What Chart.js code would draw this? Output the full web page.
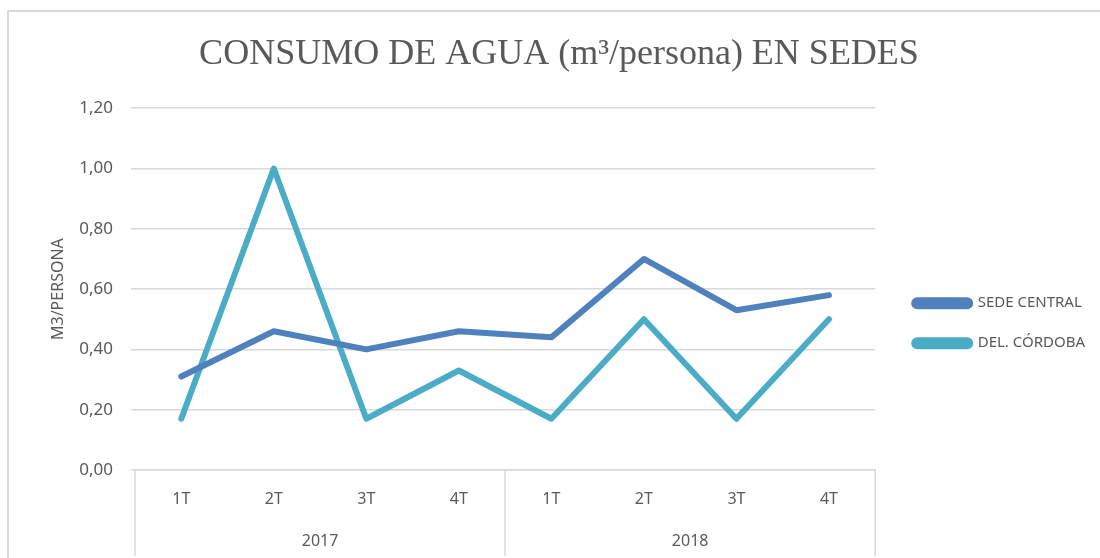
<!DOCTYPE html>
<html>
<head>
<meta charset="utf-8">
<script src="https://cdn.jsdelivr.net/npm/chart.js@4.4.1/dist/chart.umd.min.js"></script>
<style>
  html, body { margin: 0; padding: 0; background: #fff; overflow: hidden; }
  #frame { position: absolute; left: 7px; top: 10px; width: 1200px; height: 600px;
           border-left: 2px solid #d9d9d9; border-top: 2px solid #d9d9d9; }
  #wrap { position: absolute; left: 0; top: 0; width: 1100px; height: 558px; }
</style>
</head>
<body>
<div id="frame"></div>
<div id="wrap"><canvas id="myChart"></canvas></div>
<script>
const quarters = ['1T', '2T', '3T', '4T', '1T', '2T', '3T', '4T'];
const years = ['2017', '2018'];
const sedeCentral = [0.31, 0.46, 0.40, 0.46, 0.44, 0.70, 0.53, 0.58];
const delCordoba = [0.17, 1.00, 0.17, 0.33, 0.17, 0.50, 0.17, 0.50];
const yTicks = [0, 0.2, 0.4, 0.6, 0.8, 1.0, 1.2];

const gridColor = '#d9d9d9';
const textColor = '#595959';
const sansFont = "'Noto Sans', sans-serif";

// vertical separators under the axis (start, between years, end)
const groupLines = {
  id: 'groupLines',
  afterDraw(chart) {
    const x = chart.scales.x;
    const area = chart.chartArea;
    const c = chart.ctx;
    const mid = (x.getPixelForValue(3) + x.getPixelForValue(4)) / 2;
    c.save();
    c.strokeStyle = gridColor;
    c.lineWidth = 1.5;
    [area.left, mid, area.right].forEach(px => {
      c.beginPath();
      c.moveTo(px, area.bottom);
      c.lineTo(px, chart.height - 2);
      c.stroke();
    });
    c.restore();
  }
};

// nudge legend away from plot and title a bit left, like the excel original
const nudge = {
  id: 'nudge',
  afterLayout(chart) {
    const lg = chart.legend;
    const d = chart.chartArea.right + 14 - lg.left;
    lg.left += d;
    lg.right += d;
    chart.titleBlock.left -= 4;
    chart.titleBlock.right -= 4;
  }
};

const ctx = document.getElementById('myChart');

new Chart(ctx, {
  type: 'line',
  data: {
    labels: quarters,
    datasets: [
      {
        label: 'SEDE CENTRAL',
        data: sedeCentral,
        borderColor: '#4f81bd',
        backgroundColor: '#4f81bd',
        borderWidth: 6,
        pointRadius: 0,
        borderJoinStyle: 'round',
        borderCapStyle: 'round',
        tension: 0
      },
      {
        label: 'DEL. CÓRDOBA',
        data: delCordoba,
        borderColor: '#4bacc6',
        backgroundColor: '#4bacc6',
        borderWidth: 6,
        pointRadius: 0,
        borderJoinStyle: 'round',
        borderCapStyle: 'round',
        tension: 0
      }
    ]
  },
  options: {
    responsive: true,
    maintainAspectRatio: false,
    animation: false,
    layout: { padding: { left: 45, right: 19, top: 0, bottom: 0 } },
    plugins: {
      title: {
        display: true,
        text: 'CONSUMO DE AGUA (m³/persona) EN SEDES',
        color: textColor,
        font: { family: "'Liberation Serif', serif", size: 36, weight: 'normal' },
        padding: { top: 33, bottom: 32 }
      },
      legend: {
        position: 'right',
        title: { display: true, text: ' ', font: { size: 12 }, padding: { top: 74, bottom: 0 } },
        labels: {
          color: textColor,
          font: { family: sansFont, size: 15 },
          boxWidth: 56,
          boxHeight: 6,
          useBorderRadius: true,
          borderRadius: 3,
          padding: 25
        }
      },
      tooltip: { enabled: false }
    },
    scales: {
      x: {
        type: 'category',
        position: 'bottom',
        offset: true,
        grid: { display: false, offset: true },
        border: { display: true, color: gridColor, width: 1.5 },
        ticks: { color: textColor, font: { family: sansFont, size: 16 }, padding: 12 },
        afterFit(scale) { scale.height = 48; }
      },
      year: {
        type: 'category',
        position: 'bottom',
        labels: years,
        offset: true,
        grid: { display: false },
        border: { display: false },
        ticks: { color: textColor, font: { family: sansFont, size: 16 }, padding: 6 },
        afterFit(scale) { scale.height = 40; }
      },
      y: {
        min: 0,
        max: 1.2,
        afterBuildTicks(scale) { scale.ticks = yTicks.map(v => ({ value: v })); },
        grid: { color: gridColor, lineWidth: 1.5, tickLength: 4 },
        border: { display: false },
        ticks: {
          color: textColor,
          font: { family: sansFont, size: 17 },
          padding: 18,
          callback: v => v.toFixed(2).replace('.', ',')
        },
        title: {
          display: true,
          text: 'M3/PERSONA',
          color: textColor,
          font: { family: sansFont, size: 16 },
          padding: { bottom: 2 }
        },
        afterFit(scale) { scale.width = 90; }
      }
    }
  },
  plugins: [groupLines, nudge]
});
</script>
</body>
</html>
